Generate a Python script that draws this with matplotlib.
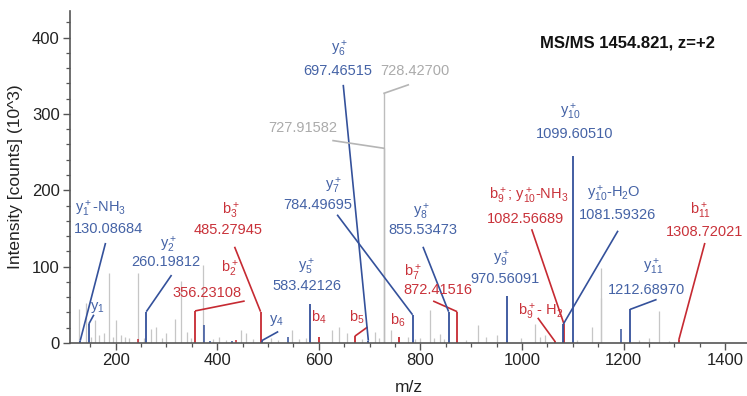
"""MS/MS スペクトル"""
import matplotlib.pyplot as plt
from matplotlib.ticker import MultipleLocator

plt.rcParams['font.family'] = ['Liberation Sans', 'DejaVu Sans']
plt.rcParams['mathtext.default'] = 'regular'

# 帰属なしのピーク (m/z, 強度 10^3)
gray_mz = [128, 142, 152, 159, 168, 176, 187, 194, 201, 210, 218, 226, 244, 256,
           270, 280, 292, 300, 316, 329, 340, 348, 372, 392, 404, 418, 447, 457,
           470, 505, 520, 547, 560, 575, 625, 639, 655, 685, 710, 718, 743, 776,
           790, 799, 818, 826, 838, 846, 890, 914, 930, 950, 998, 1026, 1035,
           1045, 1108, 1137, 1154.6, 1156.2, 1231, 1250, 1270, 1290]
gray_int = [45, 53, 8, 30, 10, 13, 92, 8, 30, 10, 8, 6, 92, 6,
            19, 21, 6, 13, 31, 81, 15, 6, 102, 5, 8, 4, 17, 13,
            5, 6, 4, 17, 5, 6, 17, 21, 13, 5, 15, 6, 17, 8,
            5, 7, 43, 6, 12, 5, 4, 24, 8, 11, 6, 25, 8,
            10, 4, 21, 98, 59, 4, 7, 42, 3]

# 帰属なしの小さい b / y ピーク
small_y_mz = [374, 385, 428, 539.6, 1195]
small_y_int = [24, 3, 3, 8, 18]
small_b_mz = [243, 436]
small_b_int = [5, 4]

# ラベル付きの灰色ピーク
iso_mz = [727.91582, 728.42700]
iso_int = [255, 327]
iso_text = ['727.91582', '728.42700']

# 帰属されたイオン
ion_names = [r'y$_1^+$-NH$_3$', r'y$_1$', r'y$_2^+$', r'b$_2^+$', r'b$_3^+$', r'y$_4$',
             r'y$_5^+$', r'b$_4$', r'b$_5$', r'y$_6^+$', r'b$_6$', r'y$_7^+$',
             r'y$_8^+$', r'b$_7^+$', r'y$_9^+$', r'b$_9^+$- H$_2$', r'y$_{10}^+$-H$_2$O',
             r'b$_9^+$; y$_{10}^+$-NH$_3$', r'y$_{10}^+$', r'y$_{11}^+$', r'b$_{11}^+$']
ion_text = ['130.08684', '', '260.19812', '356.23108', '485.27945', '',
            '583.42126', '', '', '697.46515', '', '784.49695',
            '855.53473', '872.41516', '970.56091', '', '1081.59326',
            '1082.56689', '1099.60510', '1212.68970', '1308.72021']
ion_mz = [130.09, 147.11, 260.20, 356.23, 485.28, 487.3,
          583.42, 600, 671, 697.47, 757.6, 784.50,
          855.53, 872.42, 970.56, 1065, 1081.59,
          1082.57, 1099.61, 1212.69, 1308.72]
ion_int = [3, 25, 41, 42, 41, 3,
           51, 8, 9, 3, 8, 37,
           41, 41, 62, 2, 25,
           25, 245, 44, 4]
ion_type = ['y', 'y', 'y', 'b', 'b', 'y',
            'y', 'b', 'b', 'y', 'b', 'y',
            'y', 'b', 'y', 'b', 'y',
            'b', 'y', 'y', 'b']

# ラベルの配置 (名前の位置, 値の位置, 引き出し線の端)
name_xy = [(170, 175), (163, 46), (303, 128), (425, 97), (427, 173), (517, 29),
           (576, 99), (599, 34), (674, 34), (641, 385), (756, 30), (628, 206),
           (802, 171), (786, 92), (960, 110), (1036, 41), (1181, 195),
           (1014, 193), (1095, 302), (1259, 99), (1351, 173)]
text_xy = [(186, 149), None, (298, 106), (379, 65), (421, 148), None,
           (576, 74), None, None, (637, 356), None, (598, 181),
           (805, 148), (834, 70), (966, 84), None, (1189, 168),
           (1006, 162), (1104, 274), (1246, 70), (1359, 146)]
lead_xy = [(180, 131), (157, 37), (310, 89), (454, 55), (434, 126), (520, 15),
           None, None, (696, 21), (648, 338), None, (636, 168),
           (805, 126), (825, 55), None, (1031, 33), (1189, 147),
           (1019, 149), None, (1265, 57), (1360, 131)]
iso_name_xy = [(569, 281), (789, 356)]
iso_lead_xy = [(628, 265), (776, 338)]

line_col = {'y': '#34519b', 'b': '#c62a32'}
text_col = {'y': '#4563a6', 'b': '#c9323a'}
gray_line = '#c6c6c6'
gray_text = '#ababab'

fig = plt.figure(figsize=(7.47, 3.96), dpi=100)
ax = fig.add_axes([0.0937, 0.1338, 0.9063, 0.839])

ax.vlines(gray_mz, 0, gray_int, colors=gray_line, lw=0.9)
ax.vlines(iso_mz, 0, iso_int, colors='#bdbdbd', lw=1.0)
ax.vlines(small_y_mz, 0, small_y_int, colors=line_col['y'], lw=1.1)
ax.vlines(small_b_mz, 0, small_b_int, colors=line_col['b'], lw=1.1)

# b を先に描いて y を上に重ねる
order = [i for i in range(len(ion_mz)) if ion_type[i] == 'b'] + \
        [i for i in range(len(ion_mz)) if ion_type[i] == 'y']
for i in order:
    c = line_col[ion_type[i]]
    ax.vlines(ion_mz[i], 0, ion_int[i], colors=c, lw=1.3)
    if lead_xy[i] is not None:
        ax.plot([ion_mz[i], lead_xy[i][0]], [ion_int[i], lead_xy[i][1]],
                color=c, lw=1.2, solid_capstyle='butt')

for i in range(len(ion_mz)):
    tc = text_col[ion_type[i]]
    ax.text(name_xy[i][0], name_xy[i][1], ion_names[i], color=tc,
            fontsize=10.5, ha='center', va='center')
    if text_xy[i] is not None:
        ax.text(text_xy[i][0], text_xy[i][1], ion_text[i], color=tc,
                fontsize=10.5, ha='center', va='center')

for i in range(len(iso_mz)):
    ax.plot([iso_mz[i], iso_lead_xy[i][0]], [iso_int[i], iso_lead_xy[i][1]],
            color='#b5b5b5', lw=1.2)
    ax.text(iso_name_xy[i][0], iso_name_xy[i][1], iso_text[i], color=gray_text,
            fontsize=10.5, ha='center', va='center')

ax.text(0.8235, 0.903, 'MS/MS 1454.821, z=+2', transform=ax.transAxes,
        fontsize=12, fontweight='bold', ha='center', va='center', color='#111111')

ax.set_xlim(110, 1443)
ax.set_ylim(0, 435)
ax.xaxis.set_major_locator(MultipleLocator(200))
ax.xaxis.set_minor_locator(MultipleLocator(50))
ax.yaxis.set_major_locator(MultipleLocator(100))
ax.yaxis.set_minor_locator(MultipleLocator(20))
ax.tick_params(which='major', length=5, width=1.0, color='#555555',
               labelsize=12, pad=2.5, labelcolor='#222222')
ax.tick_params(which='minor', length=3, width=0.9, color='#555555')

for s in ['top', 'right']:
    ax.spines[s].set_visible(False)
for s in ['left', 'bottom']:
    ax.spines[s].set_color('#555555')
    ax.spines[s].set_linewidth(1.2)

ax.set_xlabel('m/z', fontsize=12.5, color='#222222', labelpad=8)
ax.set_ylabel('Intensity [counts] (10^3)', fontsize=12.5, color='#222222', labelpad=6)

fig.savefig('out.png', dpi=100)
